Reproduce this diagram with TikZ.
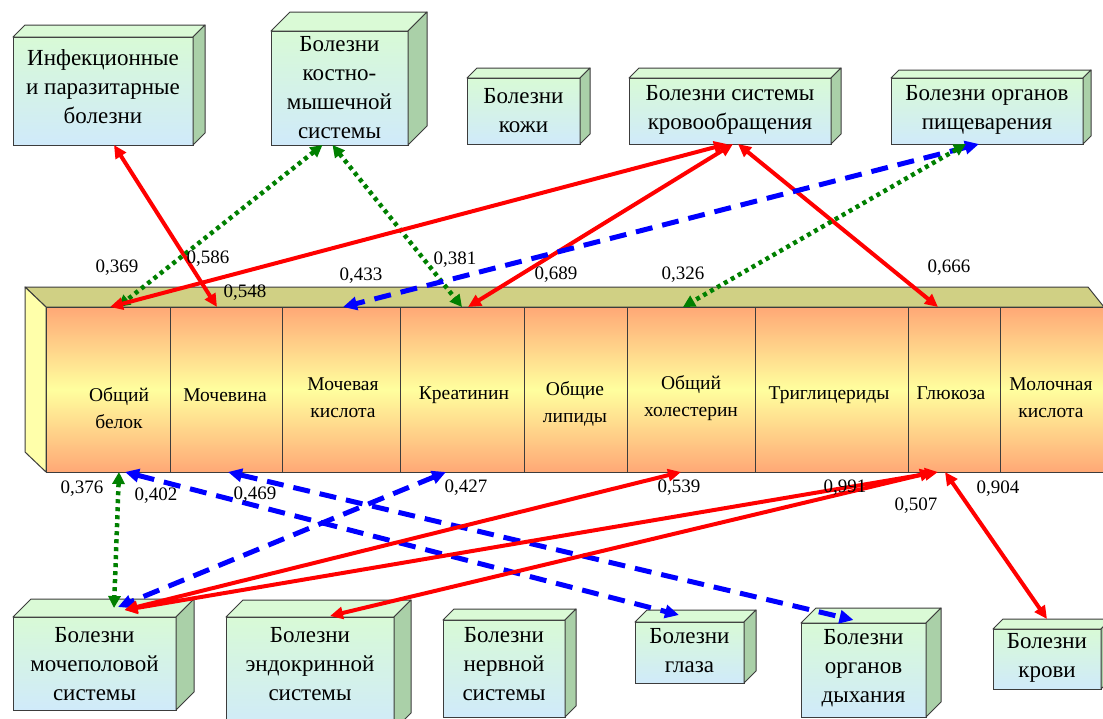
\documentclass[tikz,border=0pt]{standalone}
\usepackage{fontspec}
\setmainfont{Liberation Serif}
\usetikzlibrary{arrows.meta,calc}
\definecolor{redc}{RGB}{255,0,0}
\definecolor{bluec}{RGB}{0,0,255}
\definecolor{greenc}{RGB}{0,128,0}
\definecolor{boxtopg}{RGB}{216,250,214}
\definecolor{boxbotb}{RGB}{208,234,250}
\definecolor{boxside}{RGB}{170,208,168}
\definecolor{boxlid}{RGB}{218,250,214}
\definecolor{cellorange}{RGB}{255,168,118}
\definecolor{cellyellow}{RGB}{255,255,158}
\definecolor{barlid}{RGB}{208,208,132}
\definecolor{barside}{RGB}{255,255,170}
\definecolor{edgec}{RGB}{60,60,60}
\tikzset{
  front/.style={draw=edgec, line width=1pt, inner sep=0pt, outer sep=0pt,
    top color=boxtopg, bottom color=boxbotb},
  lid/.style={draw=edgec, line width=1pt, fill=boxlid, line join=round},
  side/.style={draw=edgec, line width=1pt, fill=boxside, line join=round},
  boxtext/.style={font=\fontsize{23}{29}\selectfont, align=center, inner sep=0pt},
  cell/.style={draw=edgec, line width=1pt, inner sep=0pt, outer sep=0pt,
    top color=cellorange, bottom color=cellorange, middle color=cellyellow,
    minimum height=165pt},
  celltext/.style={font=\fontsize{19.5}{27}\selectfont, align=center, inner sep=0pt},
  num/.style={font=\fontsize{19}{22}\selectfont, inner sep=0pt},
  redarrow/.style={draw=redc, line width=4pt,
    {Triangle[length=13pt,width=12pt]}-{Triangle[length=13pt,width=12pt]}},
  bluearrow/.style={draw=bluec, line width=5pt, dash pattern=on 17pt off 10pt,
    {Triangle[length=14pt,width=13pt]}-{Triangle[length=14pt,width=13pt]}},
  greenarrow/.style={draw=greenc, line width=4.5pt, dash pattern=on 4pt off 4pt,
    {Triangle[length=12pt,width=12pt]}-{Triangle[length=12pt,width=12pt]}}
}
\newcommand\cubebox[8]{%
  \node[front, minimum width=#4pt, minimum height=#5pt] (#1) at (#2,#3) {};
  \filldraw[lid] (#1.north west) -- ++(#6,-#6) -- ([shift={(#6,-#6)}]#1.north east) -- (#1.north east) -- cycle;
  \filldraw[side] (#1.north east) -- ++(#6,-#6) -- ([shift={(#6,-#6)}]#1.south east) -- (#1.south east) -- cycle;
  \node[boxtext] (#1-t) at (#2,#7) {#8};
}
\begin{document}
\begin{tikzpicture}[x=1pt,y=-1pt]
\useasboundingbox (0,0) rectangle (1103,718);
\fill[white] (0,0) rectangle (1103,718);
\clip (0,0) rectangle (1103,718);

% central bar
\filldraw[draw=edgec, line width=1pt, fill=barlid, line join=round]
  (25,287) -- (1088,287) -- (1104,307) -- (46,307) -- cycle;
\filldraw[draw=edgec, line width=1pt, fill=barside, line join=round]
  (25,287) -- (46,307) -- (46,472) -- (25,452) -- cycle;
\node[cell, minimum width=124pt] (c1) at (108,389.5) {};
\node[cell, minimum width=112pt] (c2) at (226,389.5) {};
\node[cell, minimum width=118pt] (c3) at (341,389.5) {};
\node[cell, minimum width=124pt] (c4) at (462,389.5) {};
\node[cell, minimum width=103pt] (c5) at (575.5,389.5) {};
\node[cell, minimum width=128pt] (c6) at (691,389.5) {};
\node[cell, minimum width=153pt] (c7) at (831.5,389.5) {};
\node[cell, minimum width=92pt] (c8) at (954,389.5) {};
\node[cell, minimum width=110pt] (c9) at (1055,389.5) {};
\node[celltext] (t1) at (119,408) {Общий\\белок};
\node[celltext] (t2) at (225,395) {Мочевина};
\node[celltext] (t3) at (343,398) {Мочевая\\кислота};
\node[celltext] (t4) at (464,395) {Креатинин};
\node[celltext] (t5) at (575,404) {Общие\\липиды};
\node[celltext] (t6) at (691,398) {Общий\\холестерин};
\node[celltext] (t7) at (829,395) {Триглицериды};
\node[celltext] (t8) at (951,393) {Глюкоза};
\node[celltext] (t9) at (1051,398) {Молочная\\кислота};

% top boxes
\cubebox{inf}{103}{91}{180}{108}{12}{87}{Инфекционные\\и паразитарные\\болезни}
\cubebox{kost}{339.5}{88}{137}{114}{19}{88}{Болезни\\костно-\\мышечной\\системы}
\cubebox{kozh}{523.5}{111}{113}{66}{10}{111}{Болезни\\кожи}
\cubebox{krov}{730}{111}{202}{66}{10}{110}{Болезни системы\\кровообращения}
\cubebox{pish}{987}{111}{192}{66}{8}{110}{Болезни органов\\пищеварения}

% bottom boxes
\cubebox{moch}{94.5}{663.5}{163}{93}{18}{664}{Болезни\\мочеполовой\\системы}
\cubebox{endo}{310}{673.5}{168}{113}{17}{664}{Болезни\\эндокринной\\системы}
\cubebox{nerv}{504}{668.5}{122}{97}{11}{664}{Болезни\\нервной\\системы}
\cubebox{glaz}{689.5}{652.5}{109}{61}{12}{651}{Болезни\\глаза}
\cubebox{dyh}{863.5}{670}{125}{94}{15}{668}{Болезни\\органов\\дыхания}
\cubebox{krovi}{1047}{659}{108}{60}{10}{658}{Болезни\\крови}

% top connectors
\draw[redarrow] ([xshift=11pt]inf.south) -- ([xshift=-9pt]c2.north);
\draw[greenarrow] ([xshift=-17pt]kost.south) -- ([xshift=10pt]c1.north);
\draw[greenarrow] ([xshift=-7pt]kost.south) -- ([xshift=0pt]c4.north);
\draw[redarrow] ([xshift=-3pt]krov.south) -- ([xshift=2pt]c1.north);
\draw[redarrow] ([xshift=3pt]krov.south) -- ([xshift=6pt]c4.north);
\draw[redarrow] ([xshift=8pt]krov.south) -- ([xshift=-16pt]c8.north);
\draw[bluearrow] ([xshift=-8pt]pish.south) -- ([xshift=2pt]c3.north);
\draw[greenarrow] ([xshift=-21pt]pish.south) -- ([xshift=-8pt]c6.north);

% bottom connectors
\draw[greenarrow] ([xshift=11pt]c1.south) -- ([shift={(19.5,-9)}]moch.north);
\draw[bluearrow] ([xshift=17pt]c1.south) -- ([shift={(-10.5,-7)}]glaz.north);
\draw[bluearrow] ([xshift=2pt]c2.south) -- ([shift={(-10,-3)}]dyh.north);
\draw[bluearrow] ([xshift=-16pt]c4.south) -- ([shift={(23.5,-10)}]moch.north);
\draw[redarrow] ([xshift=-10pt]c6.south) -- ([shift={(30,-7)}]moch.north);
\draw[redarrow] ([xshift=-16pt]c8.south) -- ([shift={(30,-7)}]moch.north);
\draw[redarrow] ([xshift=-21pt]c8.south) -- ([shift={(20,-1)}]endo.north);
\draw[redarrow] ([xshift=-9pt]c8.south) -- ([shift={(0,-10)}]krovi.north);

% labels
\node[num] (n1) at (117,268) {0,369};
\node[num] (n2) at (208,259) {0,586};
\node[num] (n3) at (245,293) {0,548};
\node[num] (n4) at (361,276) {0,433};
\node[num] (n5) at (455,260) {0,381};
\node[num] (n6) at (556,275) {0,689};
\node[num] (n7) at (683,275) {0,326};
\node[num] (n8) at (949,268) {0,666};
\node[num] (n9) at (82,489) {0,376};
\node[num] (n10) at (156,496) {0,402};
\node[num] (n11) at (255,495) {0,469};
\node[num] (n12) at (466,488) {0,427};
\node[num] (n13) at (679,488) {0,539};
\node[num] (n14) at (845,488) {0,991};
\node[num] (n15) at (916,506) {0,507};
\node[num] (n16) at (998,489) {0,904};
\end{tikzpicture}
\end{document}
